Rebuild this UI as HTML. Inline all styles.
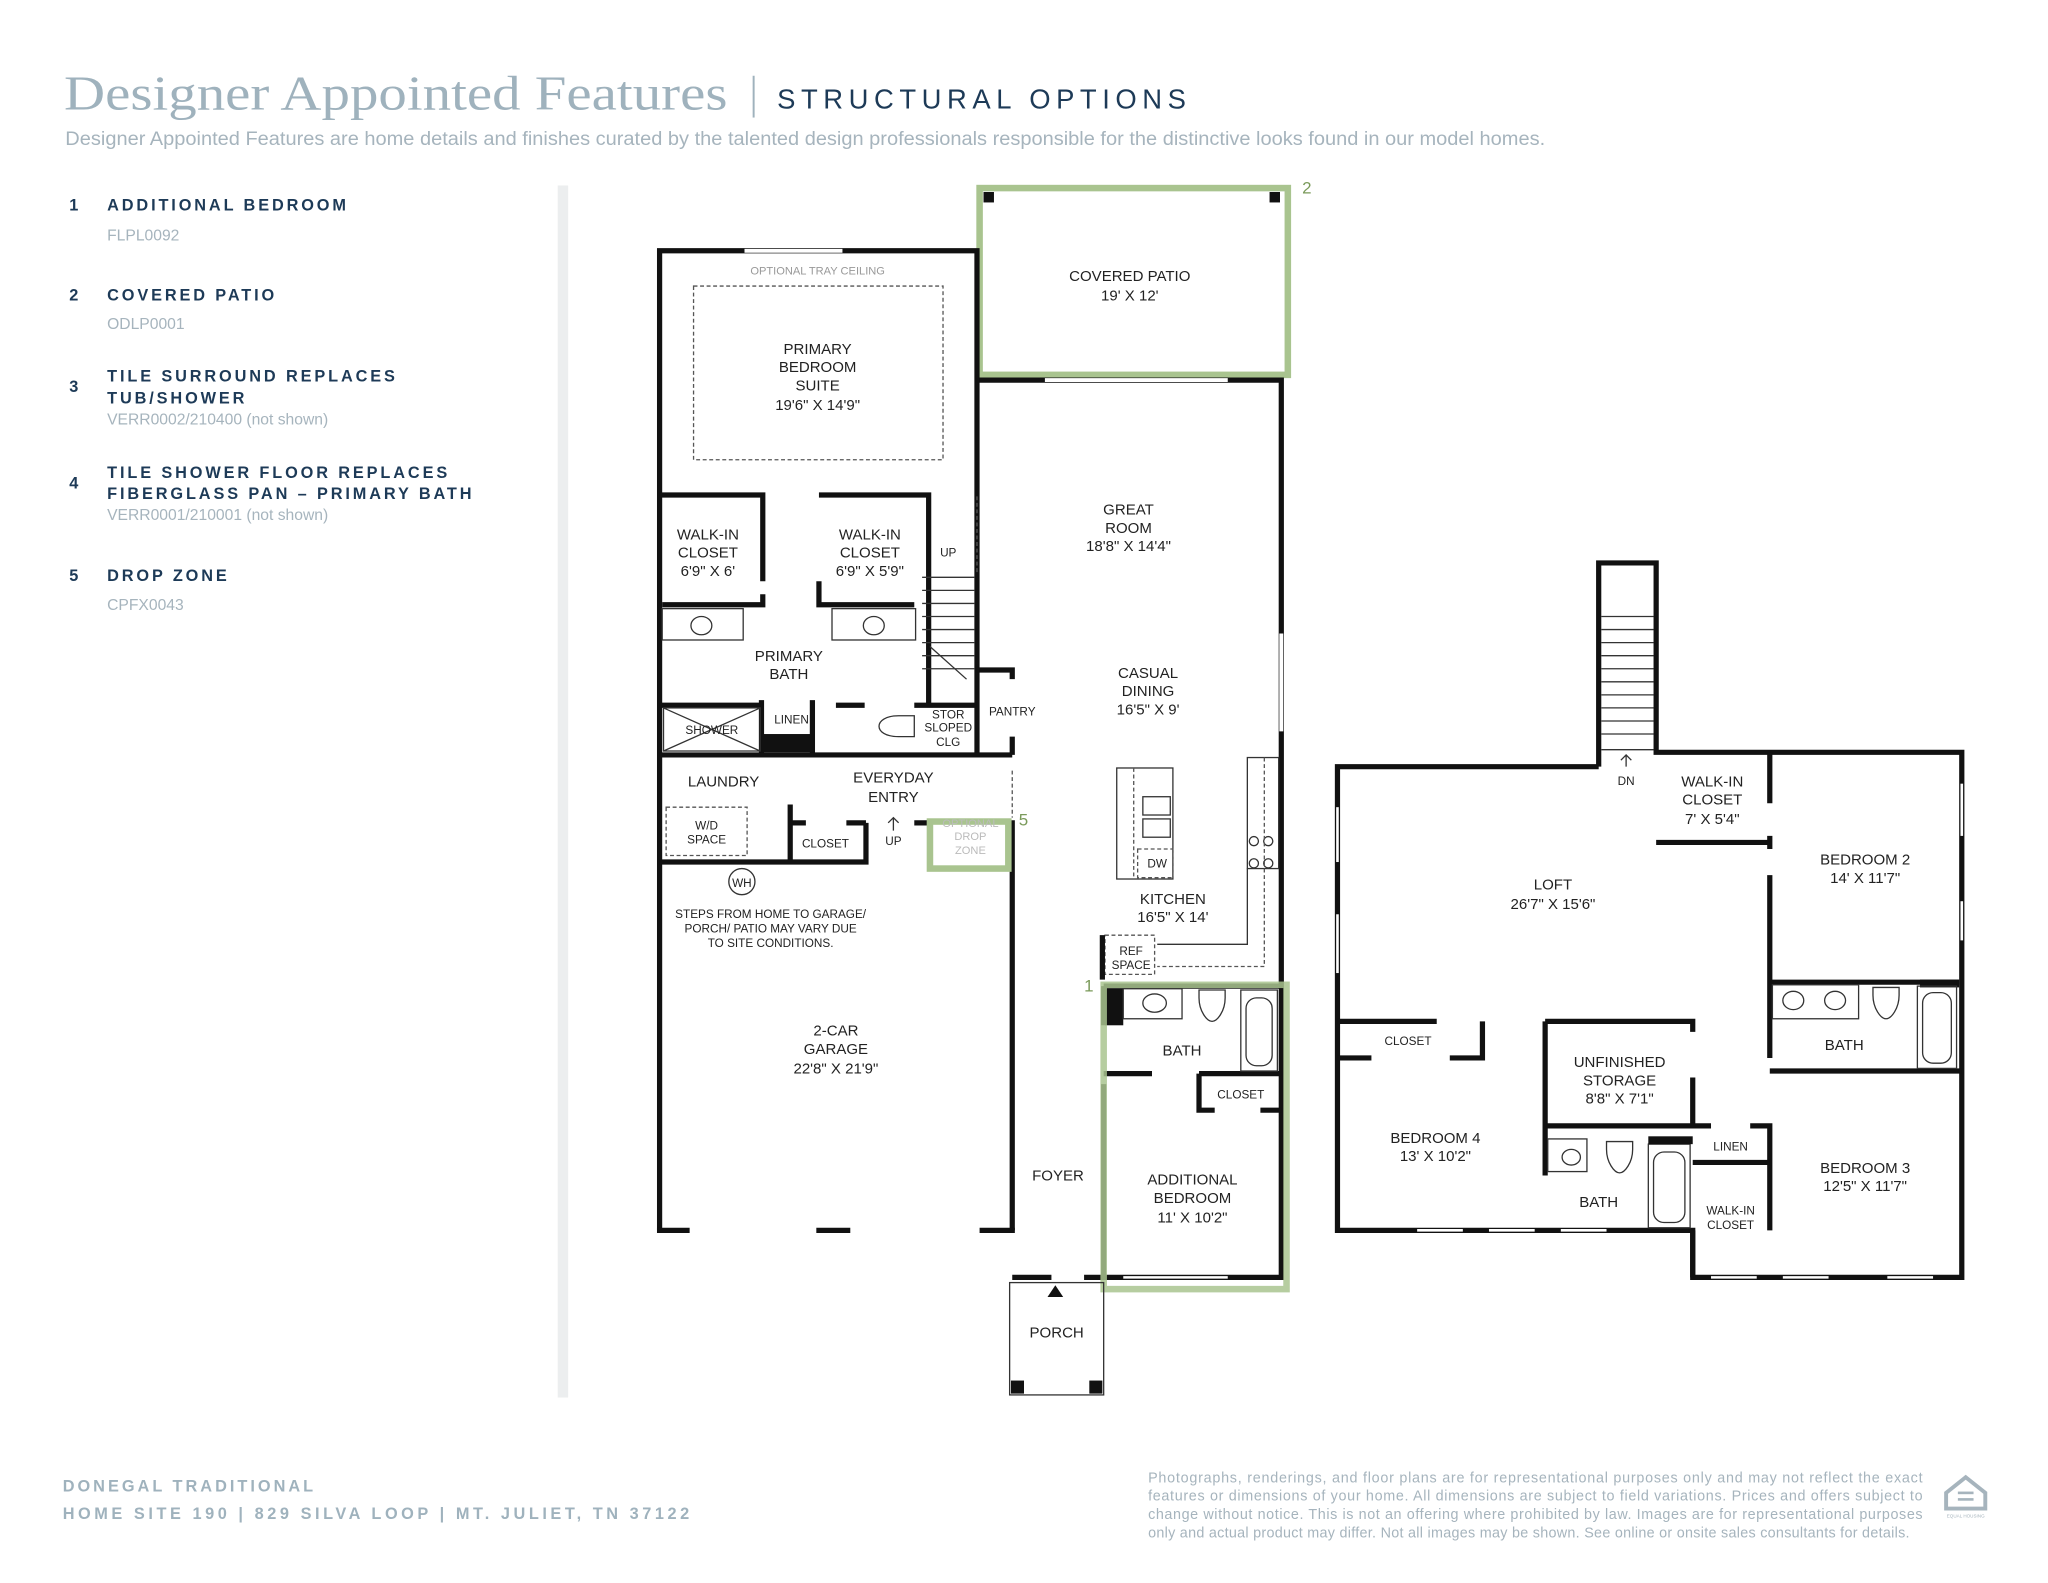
<!DOCTYPE html>
<html><head><meta charset="utf-8"><style>
html,body{margin:0;padding:0;background:#fff;}
svg{display:block;}
text{font-family:"Liberation Sans",sans-serif;}
.rl{font-size:11.5px;fill:#222;text-anchor:middle;}
.sm{font-size:9px;fill:#222;text-anchor:middle;}
.w{stroke:#111;stroke-width:4;fill:none;}
.t{stroke:#333;stroke-width:1;fill:none;}
.d{stroke:#555;stroke-width:1;fill:none;stroke-dasharray:3 2;}
.it{font-size:12.5px;font-weight:bold;fill:#1d3a57;letter-spacing:2.2px;}
.cd{font-size:12px;fill:#a6b4bd;}
</style></head><body>
<svg width="2048" height="1583" viewBox="0 0 1568 1212" xmlns="http://www.w3.org/2000/svg">
<!-- header -->
<text x="49" y="84" style="font-family:'Liberation Serif',serif;font-size:37px;fill:#9fb2bd" textLength="508" lengthAdjust="spacingAndGlyphs">Designer Appointed Features</text>
<line x1="577" y1="58" x2="577" y2="90" stroke="#9fb2bd" stroke-width="1.5"/>
<text x="595" y="83" style="font-size:21px;fill:#1d3a57" textLength="313" lengthAdjust="spacing">STRUCTURAL OPTIONS</text>
<text x="50" y="111" style="font-size:14.5px;fill:#a6b4bd" textLength="1133" lengthAdjust="spacingAndGlyphs">Designer Appointed Features are home details and finishes curated by the talented design professionals responsible for the distinctive looks found in our model homes.</text>
<!-- list -->
<text x="53" y="161" class="it">1</text><text x="82" y="161" class="it">ADDITIONAL BEDROOM</text><text x="82" y="184" class="cd">FLPL0092</text>
<text x="53" y="230" class="it">2</text><text x="82" y="230" class="it">COVERED PATIO</text><text x="82" y="252" class="cd">ODLP0001</text>
<text x="53" y="300" class="it">3</text><text x="82" y="292" class="it">TILE SURROUND REPLACES</text><text x="82" y="309" class="it">TUB/SHOWER</text><text x="82" y="325" class="cd">VERR0002/210400 (not shown)</text>
<text x="53" y="374" class="it">4</text><text x="82" y="366" class="it">TILE SHOWER FLOOR REPLACES</text><text x="82" y="382" class="it">FIBERGLASS PAN – PRIMARY BATH</text><text x="82" y="398" class="cd">VERR0001/210001 (not shown)</text>
<text x="53" y="445" class="it">5</text><text x="82" y="445" class="it">DROP ZONE</text><text x="82" y="467" class="cd">CPFX0043</text>
<rect x="427" y="142" width="8" height="928" fill="#eceeef"/>
<!-- footer -->
<text x="48" y="1142" style="font-size:12.5px;font-weight:bold;fill:#9fb2bd;letter-spacing:2.3px">DONEGAL TRADITIONAL</text>
<text x="48" y="1163" style="font-size:12.5px;font-weight:bold;fill:#9fb2bd;letter-spacing:2.3px" textLength="482">HOME SITE 190  |  829 SILVA LOOP  |  MT. JULIET, TN 37122</text>
<g style="font-size:11px;fill:#a6b4bd">
<text x="879" y="1135" textLength="593" lengthAdjust="spacing">Photographs, renderings, and floor plans are for representational purposes only and may not reflect the exact</text>
<text x="879" y="1149" textLength="593" lengthAdjust="spacing">features or dimensions of your home. All dimensions are subject to field variations. Prices and offers subject to</text>
<text x="879" y="1163" textLength="593" lengthAdjust="spacing">change without notice. This is not an offering where prohibited by law. Images are for representational purposes</text>
<text x="879" y="1177" textLength="583" lengthAdjust="spacing">only and actual product may differ. Not all images may be shown. See online or onsite sales consultants for details.</text>
</g>
<path d="M1490 1143 L1505 1131 L1520 1143 L1520 1155 L1490 1155 Z" fill="none" stroke="#a6b4bd" stroke-width="3"/>
<rect x="1499" y="1142" width="12" height="2" fill="#a6b4bd"/><rect x="1499" y="1147" width="12" height="2" fill="#a6b4bd"/>
<text x="1505" y="1162" style="font-size:3.5px;fill:#a6b4bd" text-anchor="middle">EQUAL HOUSING</text>

<!-- FIRST FLOOR -->
<!-- patio -->
<rect x="750" y="144" width="236" height="143" fill="none" stroke="#a9c48f" stroke-width="5"/>
<rect x="753" y="147" width="8" height="8" fill="#111"/><rect x="972" y="147" width="8" height="8" fill="#111"/>
<text x="997" y="148" style="font-size:13px;fill:#7a9a5a">2</text>
<text x="865" y="215" class="rl">COVERED PATIO</text><text x="865" y="230" class="rl">19' X 12'</text>
<!-- outer walls -->
<path class="w" d="M505 942 V192 H748 V578"/>
<path class="w" d="M748 291 H981 V980"/>
<line x1="570" y1="192" x2="645" y2="192" stroke="#fff" stroke-width="3"/>
<line x1="800" y1="291" x2="940" y2="291" stroke="#fff" stroke-width="3"/>
<line x1="981" y1="485" x2="981" y2="560" stroke="#fff" stroke-width="3"/>
<text x="626" y="210" style="font-size:8.5px;fill:#999" text-anchor="middle">OPTIONAL TRAY CEILING</text>
<rect x="531" y="219" width="191" height="133" class="d"/>
<text x="626" y="271" class="rl">PRIMARY</text><text x="626" y="285" class="rl">BEDROOM</text><text x="626" y="299" class="rl">SUITE</text><text x="626" y="314" class="rl">19'6" X 14'9"</text>
<text x="864" y="394" class="rl">GREAT</text><text x="864" y="408" class="rl">ROOM</text><text x="864" y="422" class="rl">18'8" X 14'4"</text>
<!-- closets -->
<path class="w" d="M505 379 H584 V445 M584 455 V463 H507"/>
<path class="w" d="M627 379 H711 V540 M627 445 V463 H700"/>
<text x="542" y="413" class="rl">WALK-IN</text><text x="542" y="427" class="rl">CLOSET</text><text x="542" y="441" class="rl">6'9" X 6'</text>
<text x="666" y="413" class="rl">WALK-IN</text><text x="666" y="427" class="rl">CLOSET</text><text x="666" y="441" class="rl">6'9" X 5'9"</text>
<line x1="748" y1="380" x2="748" y2="440" class="d"/>
<!-- stairs -->
<g class="t"><line x1="706" y1="442" x2="746" y2="442"/><line x1="706" y1="452" x2="746" y2="452"/><line x1="706" y1="462" x2="746" y2="462"/><line x1="706" y1="472" x2="746" y2="472"/><line x1="706" y1="482" x2="746" y2="482"/><line x1="706" y1="492" x2="746" y2="492"/><line x1="706" y1="502" x2="746" y2="502"/><line x1="706" y1="512" x2="746" y2="512"/><path d="M712 495 L740 520"/></g>
<text x="726" y="426" class="sm">UP</text>
<rect x="507" y="466" width="62" height="24" class="t"/><ellipse cx="537" cy="479" rx="8" ry="7" class="t"/>
<rect x="637" y="466" width="64" height="24" class="t"/><ellipse cx="669" cy="479" rx="8" ry="7" class="t"/>
<text x="604" y="506" class="rl">PRIMARY</text><text x="604" y="520" class="rl">BATH</text>
<path class="w" d="M505 540 H583 M583 536 V578 M622 536 V578 M640 540 H662 M700 540 H748"/>
<rect x="583" y="562" width="40" height="14" fill="#111"/>
<rect x="508" y="542" width="74" height="33" class="t"/><path d="M508 542 L582 575 M582 542 L508 575" class="t"/>
<text x="545" y="562" class="sm">SHOWER</text><text x="606" y="554" class="sm">LINEN</text>
<path d="M700 548 H688 C668 548 668 564 688 564 H700 Z" class="t"/>
<rect x="705" y="541" width="43" height="36" fill="none"/>
<text x="726" y="550" class="sm">STOR</text><text x="726" y="560" class="sm">SLOPED</text><text x="726" y="571" class="sm">CLG</text>
<path class="w" d="M748 513 H775 V520 M775 564 V578 M505 578 H775"/>
<text x="775" y="548" class="sm">PANTRY</text>
<text x="879" y="519" class="rl">CASUAL</text><text x="879" y="533" class="rl">DINING</text><text x="879" y="547" class="rl">16'5" X 9'</text>
<!-- laundry row -->
<line x1="775" y1="590" x2="775" y2="626" class="d"/>
<path class="w" d="M775 628 V942"/>
<text x="554" y="602" class="rl">LAUNDRY</text><text x="684" y="599" class="rl">EVERYDAY</text><text x="684" y="614" class="rl">ENTRY</text>
<rect x="510" y="618" width="62" height="37" class="d"/><text x="541" y="635" class="sm">W/D</text><text x="541" y="646" class="sm">SPACE</text>
<path class="w" d="M505 660 H663 V630 M605 660 V616 M605 630 H617 M648 630 H663"/>
<text x="632" y="649" class="sm">CLOSET</text>
<path d="M684 636 V626 M680 630 L684 626 L688 630" class="t"/><text x="684" y="647" class="sm">UP</text>
<path class="w" d="M700 630 H712 V665"/>
<rect x="712" y="629" width="60" height="36" fill="none" stroke="#a9c48f" stroke-width="5"/>
<text x="743" y="633" style="font-size:8.5px;fill:#bbb" text-anchor="middle">OPTIONAL</text><text x="743" y="643" style="font-size:8.5px;fill:#bbb" text-anchor="middle">DROP</text><text x="743" y="654" style="font-size:8.5px;fill:#bbb" text-anchor="middle">ZONE</text>
<text x="780" y="632" style="font-size:13px;fill:#7a9a5a">5</text>
<circle cx="568" cy="675" r="10" class="t"/><text x="568" y="679" class="sm">WH</text>
<text x="590" y="703" class="sm">STEPS FROM HOME TO GARAGE/</text><text x="590" y="714" class="sm">PORCH/ PATIO MAY VARY DUE</text><text x="590" y="725" class="sm">TO SITE CONDITIONS.</text>
<text x="640" y="793" class="rl">2-CAR</text><text x="640" y="807" class="rl">GARAGE</text><text x="640" y="822" class="rl">22'8" X 21'9"</text>
<path class="w" d="M503 942 H528 M625 942 H651 M750 942 H777"/>
<!-- kitchen -->
<rect x="855" y="588" width="43" height="85" class="t"/><line x1="868" y1="588" x2="868" y2="673" class="d"/>
<rect x="875" y="610" width="21" height="14" class="t"/><rect x="875" y="627" width="21" height="14" class="t"/><rect x="871" y="650" width="27" height="22" class="d"/><text x="886" y="664" class="sm">DW</text>
<rect x="955" y="580" width="24" height="85" class="t"/><circle cx="960" cy="644" r="3.5" class="t"/><circle cx="971" cy="644" r="3.5" class="t"/><circle cx="960" cy="661" r="3.5" class="t"/><circle cx="971" cy="661" r="3.5" class="t"/>
<path d="M968 580 V740 H886" class="d"/><path d="M955 665 V723 H886" class="t"/>
<text x="898" y="692" class="rl">KITCHEN</text><text x="898" y="706" class="rl">16'5" X 14'</text>
<rect x="846" y="716" width="38" height="30" class="d"/><text x="866" y="731" class="sm">REF</text><text x="866" y="742" class="sm">SPACE</text>
<path class="w" d="M844 716 V750"/>
<!-- additional bedroom -->
<path class="w" d="M845 755 H981 M845 755 V785 M845 822 H882 M918 822 H981 M918 822 V850 H930 M965 850 H981 M775 978 H805 M830 978 H981 M845 830 V978"/>
<rect x="846" y="757" width="14" height="28" fill="#111"/>
<rect x="860" y="757" width="45" height="23" class="t"/><ellipse cx="884" cy="768" rx="9" ry="7" class="t"/>
<path d="M918 758 H938 V764 C938 774 932 782 928 782 C924 782 918 774 918 764 Z" class="t"/>
<rect x="950" y="758" width="28" height="62" class="t"/><rect x="954" y="764" width="20" height="52" rx="8" class="t"/>
<text x="905" y="808" class="rl">BATH</text><text x="950" y="841" class="sm">CLOSET</text>
<text x="810" y="904" class="rl">FOYER</text>
<text x="913" y="907" class="rl">ADDITIONAL</text><text x="913" y="921" class="rl">BEDROOM</text><text x="913" y="936" class="rl">11' X 10'2"</text>
<line x1="860" y1="978" x2="940" y2="978" stroke="#fff" stroke-width="2"/>
<rect x="845" y="754" width="140" height="233" fill="none" stroke="#a9c48f" stroke-width="5" opacity="0.85"/>
<text x="830" y="759" style="font-size:13px;fill:#7a9a5a">1</text>
<!-- porch -->
<rect x="773" y="982" width="72" height="86" class="t"/>
<rect x="774" y="1057" width="10" height="10" fill="#111"/><rect x="834" y="1057" width="10" height="10" fill="#111"/>
<path d="M802 993 L808 984 L814 993 Z" fill="#111"/>
<text x="809" y="1024" class="rl">PORCH</text>

<!-- SECOND FLOOR -->
<path class="w" d="M1224 587 V431 H1268 V576 H1502 V978 H1296 V942 H1024 V587 H1224"/>
<g class="t"><line x1="1226" y1="472" x2="1266" y2="472"/><line x1="1226" y1="482" x2="1266" y2="482"/><line x1="1226" y1="492" x2="1266" y2="492"/><line x1="1226" y1="502" x2="1266" y2="502"/><line x1="1226" y1="512" x2="1266" y2="512"/><line x1="1226" y1="522" x2="1266" y2="522"/><line x1="1226" y1="532" x2="1266" y2="532"/><line x1="1226" y1="542" x2="1266" y2="542"/><line x1="1226" y1="552" x2="1266" y2="552"/><line x1="1226" y1="562" x2="1266" y2="562"/><line x1="1226" y1="574" x2="1266" y2="574"/><path d="M1245 587 V578 M1241 582 L1245 578 L1249 582"/></g>
<text x="1245" y="601" class="sm">DN</text>
<line x1="1024" y1="618" x2="1024" y2="660" stroke="#fff" stroke-width="2"/><line x1="1024" y1="700" x2="1024" y2="745" stroke="#fff" stroke-width="2"/>
<line x1="1502" y1="600" x2="1502" y2="640" stroke="#fff" stroke-width="2"/><line x1="1502" y1="690" x2="1502" y2="720" stroke="#fff" stroke-width="2"/>
<path class="w" d="M1268 645 H1355 M1355 576 V615 M1355 640 V650 M1355 670 V810 M1355 820 H1502 M1355 752 H1500 M1355 860 V942 M1296 862 H1310 M1340 862 H1355"/>
<rect x="1470" y="750" width="30" height="6" fill="#111"/>
<text x="1311" y="602" class="rl">WALK-IN</text><text x="1311" y="616" class="rl">CLOSET</text><text x="1311" y="631" class="rl">7' X 5'4"</text>
<text x="1428" y="662" class="rl">BEDROOM 2</text><text x="1428" y="676" class="rl">14' X 11'7"</text>
<text x="1189" y="681" class="rl">LOFT</text><text x="1189" y="696" class="rl">26'7" X 15'6"</text>
<rect x="1357" y="754" width="66" height="26" class="t"/><ellipse cx="1373" cy="766" rx="8" ry="7" class="t"/><ellipse cx="1405" cy="766" rx="8" ry="7" class="t"/>
<path d="M1434 756 H1454 V762 C1454 772 1448 780 1444 780 C1440 780 1434 772 1434 762 Z" class="t"/>
<rect x="1468" y="755" width="30" height="63" class="t"/><rect x="1472" y="760" width="22" height="54" rx="8" class="t"/>
<text x="1412" y="804" class="rl">BATH</text>
<path class="w" d="M1024 782 H1100 M1183 782 H1296 V790 M1135 782 V810 H1110 M1024 810 H1050 M1183 782 V860 M1296 825 V862 H1183 V900"/>
<text x="1078" y="800" class="sm">CLOSET</text>
<text x="1240" y="817" class="rl">UNFINISHED</text><text x="1240" y="831" class="rl">STORAGE</text><text x="1240" y="845" class="rl">8'8" X 7'1"</text>
<text x="1099" y="875" class="rl">BEDROOM 4</text><text x="1099" y="889" class="rl">13' X 10'2"</text>
<rect x="1185" y="872" width="30" height="25" class="t"/><ellipse cx="1203" cy="886" rx="7" ry="6" class="t"/>
<path d="M1230 874 H1250 V880 C1250 890 1244 898 1240 898 C1236 898 1230 890 1230 880 Z" class="t"/>
<rect x="1262" y="876" width="32" height="64" class="t"/><rect x="1266" y="882" width="24" height="54" rx="8" class="t"/>
<rect x="1262" y="870" width="34" height="6" fill="#111"/>
<text x="1224" y="924" class="rl">BATH</text>
<path class="w" d="M1296 890 H1355 M1296 942 V978"/>
<text x="1325" y="881" class="sm">LINEN</text>
<text x="1325" y="930" class="sm">WALK-IN</text><text x="1325" y="941" class="sm">CLOSET</text>
<text x="1428" y="898" class="rl">BEDROOM 3</text><text x="1428" y="912" class="rl">12'5" X 11'7"</text>
<g stroke="#fff" stroke-width="2"><line x1="1085" y1="942" x2="1120" y2="942"/><line x1="1140" y1="942" x2="1175" y2="942"/><line x1="1195" y1="942" x2="1230" y2="942"/><line x1="1310" y1="978" x2="1345" y2="978"/><line x1="1365" y1="978" x2="1400" y2="978"/><line x1="1445" y1="978" x2="1480" y2="978"/></g>
</svg>
</body></html>
